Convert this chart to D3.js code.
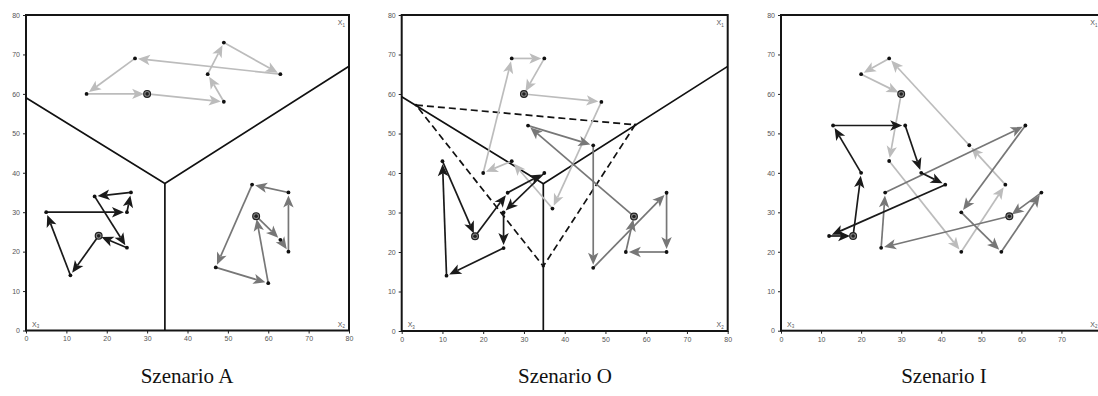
<!DOCTYPE html>
<html>
<head>
<meta charset="utf-8">
<script src="https://cdn.jsdelivr.net/npm/d3@7/dist/d3.min.js"></script>
<style>
  html, body { margin: 0; padding: 0; background: #fff; }
  svg { display: block; }
</style>
</head>
<body>
<svg id="chart" width="1098" height="396"></svg>
<script>
// Axis ticks shared by all three panels
const xTicks = [0, 10, 20, 30, 40, 50, 60, 70, 80];
const yTicks = [0, 10, 20, 30, 40, 50, 60, 70, 80];

// Scenario titles
const scenarioNames = ["Szenario A", "Szenario O", "Szenario I"];

// Paths: each starts and ends at the marked start point
const pathA_light = [[30,60],[49,58],[45,65],[49,73],[63,65],[27,69],[15,60],[30,60]];
const pathA_dark  = [[57,29],[63,23],[65,20],[65,35],[56,37],[47,16],[60,12],[57,29]];
const pathA_black = [[18,24],[11,14],[5,30],[25,30],[26,35],[17,34],[25,21],[18,24]];

const pathO_light = [[30,60],[49,58],[37,31],[27,43],[20,40],[27,69],[35,69],[30,60]];
const pathO_dark  = [[57,29],[31,52],[47,47],[47,16],[65,35],[65,20],[55,20],[57,29]];
const pathO_black = [[18,24],[26,35],[35,40],[25,30],[25,21],[11,14],[10,43],[18,24]];

const pathI_light = [[30,60],[27,43],[45,20],[56,37],[47,47],[27,69],[20,65],[30,60]];
const pathI_dark  = [[57,29],[25,21],[26,35],[61,52],[45,30],[55,20],[65,35],[57,29]];
const pathI_black = [[18,24],[20,40],[13,52],[31,52],[35,40],[41,37],[12,24],[18,24]];

// Region boundaries (solid) and the dashed triangle of scenario O
const boundaryA = [[[0,59],[34.4,37.3],[80,67]], [[34.4,37.3],[34.4,0]]];
const boundaryO = [[[0,59.3],[34.75,37.3],[80,67]], [[34.75,37.3],[34.75,0]]];
const boundaryI = [];
const dashedO = [[3.5,57.2],[57.3,52.2],[34.75,16.4],[3.5,57.2]];

const colors = { light: "#bcbcbc", dark: "#777777", black: "#1a1a1a" };

const panels = [
  { name: scenarioNames[0], left: 26,    right: 349,    top: 15, bottom: 330.5, cx: 187,
    paths: { light: pathA_light, dark: pathA_dark, black: pathA_black }, bounds: boundaryA, dashed: null },
  { name: scenarioNames[1], left: 401.7, right: 727.7,  top: 15, bottom: 331,   cx: 565,
    paths: { light: pathO_light, dark: pathO_dark, black: pathO_black }, bounds: boundaryO, dashed: dashedO },
  { name: scenarioNames[2], left: 781,   right: 1101.5, top: 15, bottom: 330.7, cx: 944,
    paths: { light: pathI_light, dark: pathI_dark, black: pathI_black }, bounds: boundaryI, dashed: null }
];

const svg = d3.select("#chart");

panels.forEach(p => {
  const x = d3.scaleLinear().domain([0, 80]).range([p.left, p.right]);
  const y = d3.scaleLinear().domain([0, 80]).range([p.bottom, p.top]);
  const g = svg.append("g");

  // Axes: ticks and labels
  const yAxis = d3.axisLeft(y).tickValues(yTicks).tickSize(3).tickPadding(3);
  const xAxis = d3.axisBottom(x).tickValues(xTicks).tickSize(3).tickPadding(3);
  const ya = g.append("g").attr("transform", `translate(${p.left},0)`).call(yAxis);
  const xa = g.append("g").attr("transform", `translate(0,${p.bottom})`).call(xAxis);
  [ya, xa].forEach(a => {
    a.select(".domain").remove();
    a.selectAll(".tick line").attr("stroke", "#222").attr("stroke-width", 1);
    a.selectAll(".tick text").attr("fill", "#555")
      .style("font-family", "'Liberation Sans', Arial, sans-serif").style("font-size", "7px");
  });

  // Frame
  g.append("rect")
    .attr("x", p.left).attr("y", p.top)
    .attr("width", p.right - p.left).attr("height", p.bottom - p.top)
    .attr("fill", "none").attr("stroke", "#151515").attr("stroke-width", 2);

  // Corner labels
  const corner = (tx, ty, sub, anchor) => {
    const t = g.append("text").attr("x", tx).attr("y", ty).attr("text-anchor", anchor)
      .attr("fill", "#555").style("font-family", "'Liberation Sans', Arial, sans-serif").style("font-size", "7px");
    t.append("tspan").text("X");
    t.append("tspan").attr("dy", 1.5).style("font-size", "4.5px").text(sub);
  };
  corner(p.right - 4, p.top + 10, "1", "end");
  corner(p.left + 6, p.bottom - 4, "3", "start");
  corner(p.right - 4, p.bottom - 4, "2", "end");

  const line = d3.line().x(d => x(d[0])).y(d => y(d[1]));

  // Solid boundaries
  p.bounds.forEach(b => {
    g.append("path").attr("d", line(b)).attr("fill", "none")
      .attr("stroke", "#111").attr("stroke-width", 1.7);
  });

  // Dashed triangle
  if (p.dashed) {
    g.append("path").attr("d", line(p.dashed)).attr("fill", "none")
      .attr("stroke", "#111").attr("stroke-width", 1.7).attr("stroke-dasharray", "7,4");
    p.dashed.slice(0, 3).forEach(d => {
      g.append("circle").attr("cx", x(d[0])).attr("cy", y(d[1])).attr("r", 1.4).attr("fill", "#111");
    });
  }

  // Arrow paths
  ["light", "dark", "black"].forEach(key => {
    const pts = p.paths[key];
    const col = colors[key];
    const pg = g.append("g");
    for (let i = 0; i < pts.length - 1; i++) {
      const x0 = x(pts[i][0]), y0 = y(pts[i][1]);
      const x1 = x(pts[i + 1][0]), y1 = y(pts[i + 1][1]);
      const dx = x1 - x0, dy = y1 - y0, len = Math.hypot(dx, dy);
      const ux = dx / len, uy = dy / len;
      const gap = 3;           // arrow tip stops just short of the point
      const L = 12, W = 5.2, N = 3;
      const tx = x1 - ux * gap, ty = y1 - uy * gap;
      const bx = tx - ux * (L - N), by = ty - uy * (L - N);
      pg.append("line").attr("x1", x0).attr("y1", y0).attr("x2", bx).attr("y2", by)
        .attr("stroke", col).attr("stroke-width", 1.7);
      const ang = Math.atan2(dy, dx) * 180 / Math.PI;
      pg.append("path")
        .attr("d", `M0,0 L${-L},${-W} L${-L + N},0 L${-L},${W} Z`)
        .attr("transform", `translate(${tx},${ty}) rotate(${ang})`)
        .attr("fill", col);
    }
    // Points
    pts.slice(1, pts.length - 1).forEach(d => {
      pg.append("circle").attr("cx", x(d[0])).attr("cy", y(d[1])).attr("r", 1.9).attr("fill", "#111");
    });
    // Start marker
    const s = pts[0];
    pg.append("circle").attr("cx", x(s[0])).attr("cy", y(s[1])).attr("r", 3.4)
      .attr("fill", "#888").attr("stroke", "#222").attr("stroke-width", 1.2);
    pg.append("circle").attr("cx", x(s[0])).attr("cy", y(s[1])).attr("r", 1.8).attr("fill", "#222");
  });

  // Scenario caption
  svg.append("text").attr("x", p.cx).attr("y", 383).attr("text-anchor", "middle")
    .attr("fill", "#111")
    .style("font-family", "'Liberation Serif', 'Times New Roman', serif").style("font-size", "21px")
    .text(p.name);
});
</script>
</body>
</html>
